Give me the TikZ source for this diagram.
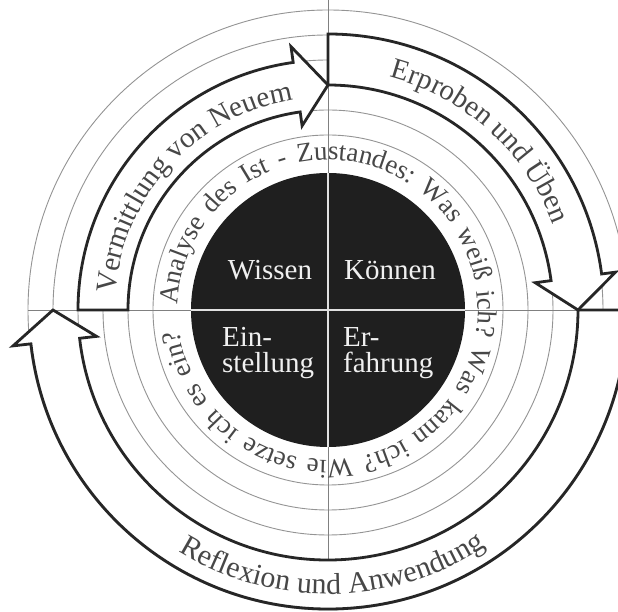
\documentclass[tikz,border=0pt]{standalone}
\usepackage{fontspec}
\setmainfont{Liberation Serif}
\usetikzlibrary{decorations.text}
\newcommand\ringfont{\fontsize{29}{32}\selectfont\color{black!72}}
\newcommand\reflfont{\fontsize{30}{32}\selectfont\color{black!72}}
\newcommand\innerfont{\fontsize{27}{30}\selectfont\color{black!72}}
\begin{document}
\begin{tikzpicture}[x=1pt,y=1pt,
  thinring/.style={draw=black!42, line width=0.9pt},
  crossline/.style={draw=black!50, line width=0.9pt},
  arrowband/.style={draw=black!85, fill=white, line width=2.8pt, line join=miter},
  disklabel/.style={text=black!6, font=\fontsize{29}{30}\selectfont, inner sep=0pt},
]
\useasboundingbox (-328,-302) rectangle (290,310);
\clip (-328,-302) rectangle (290,310);
\fill[white] (-328,-302) rectangle (290,310);
% thin concentric rings
\foreach \r in {175,200,225,250,275,300} \draw[thinring] (0,0) circle[radius=\r];
% cross lines
\draw[crossline] (0,-300) -- (0,320);
\draw[crossline] (-300,0) -- (300,0);
% arrow: Vermittlung von Neuem
\draw[arrowband] (180:250) arc[start angle=180, end angle=98, radius=250]
  -- (98:266) -- (90:225) -- (98:186) -- (98:200)
  arc[start angle=98, end angle=180, radius=200] -- cycle;
% arrow: Erproben und Ueben
\draw[arrowband] (90:276) arc[start angle=90, end angle=7.5, radius=276]
  -- (7.5:290) -- (0:250) -- (7.5:209) -- (7.5:225)
  arc[start angle=7.5, end angle=90, radius=225] -- cycle;
% arrow: Reflexion und Anwendung
\draw[arrowband] (0:299) arc[start angle=0, end angle=-173.5, radius=299]
  -- (-173.5:317) -- (180:275) -- (-173.5:233) -- (-173.5:250)
  arc[start angle=-173.5, end angle=0, radius=250] -- cycle;
% dark disk
\fill[black!88] (0,0) circle[radius=137];
\draw[draw=black!12, line width=1.6pt] (0,-137) -- (0,137) (-137,0) -- (137,0);
% disk labels
\node[disklabel, anchor=base] (wissen) at (-58,30) {Wissen};
\node[disklabel, anchor=base] (koennen) at (62,30) {Können};
\node[disklabel, anchor=base west] (ein) at (-106,-37) {Ein-};
\node[disklabel, anchor=base west] (stellung) at (-106,-63) {stellung};
\node[disklabel, anchor=base west] (er) at (15,-37) {Er-};
\node[disklabel, anchor=base west] (fahrung) at (15,-63) {fahrung};
% curved texts
\path[decorate, decoration={text along path, text align=center,
  text={|\ringfont|Vermittlung von Neuem}}]
  (182.5:213) arc[start angle=182.5, end angle=92.5, radius=213];
\path[decorate, decoration={text along path, text align=center,
  text={|\ringfont|Erproben und Üben}}]
  (88:241) arc[start angle=88, end angle=8, radius=241];
\path[decorate, decoration={text along path, text align=center,
  text={|\reflfont|Reflexion und Anwendung}}]
  (226:284) arc[start angle=226, end angle=316, radius=284];
\path[decorate, decoration={text along path, text align=fit to path stretching spaces,
  text={|\innerfont|Analyse des Ist - Zustandes: Was weiß ich? Was kann ich? Wie setze ich es ein?}}]
  (178:150) arc[start angle=178, end angle=-172, radius=150];
\end{tikzpicture}
\end{document}
